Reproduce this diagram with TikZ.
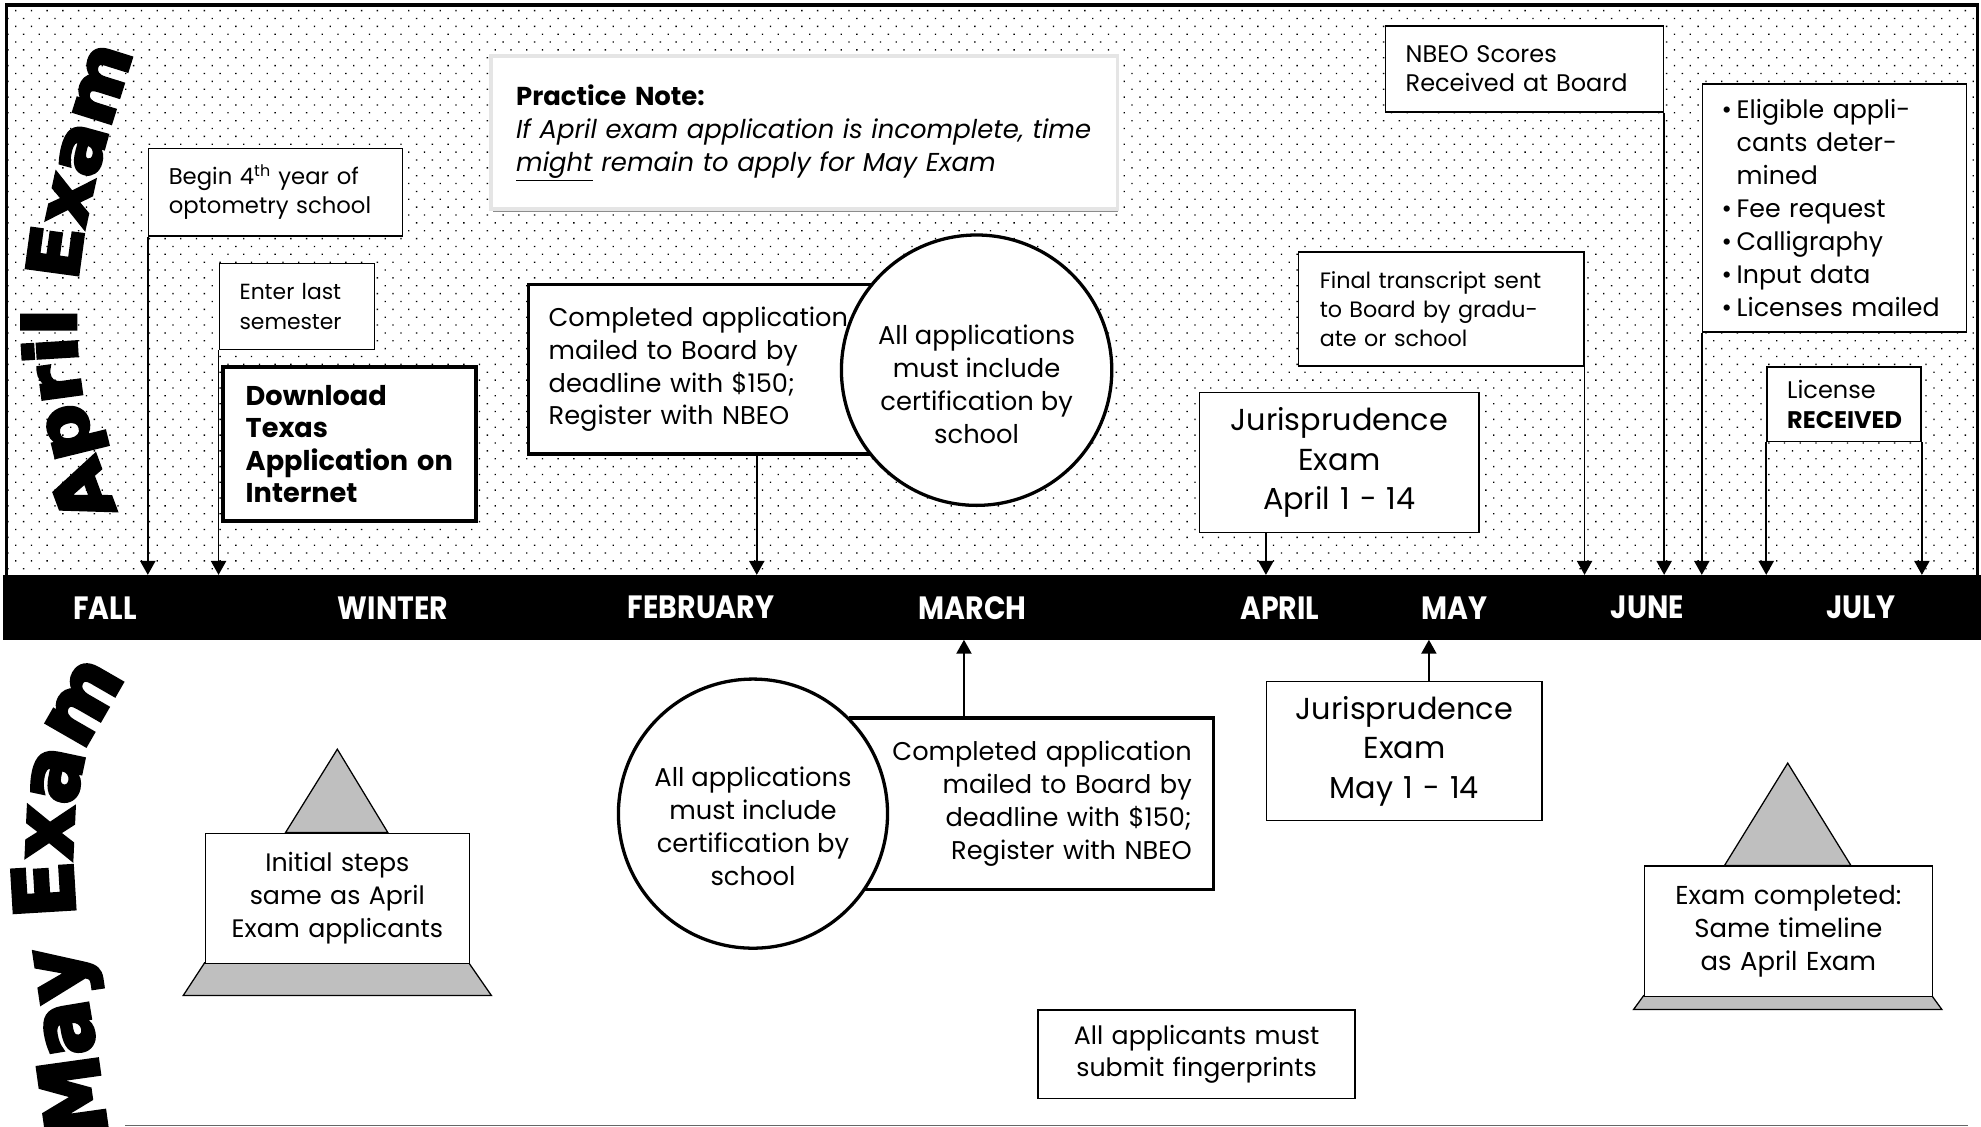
\documentclass[tikz,border=0pt]{standalone}
\usepackage{fontspec}
\setmainfont{Poppins}
\newfontfamily\heavy[FakeBold=5]{DejaVu Sans}
\newfontfamily\heavywide[FakeBold=5,FakeStretch=1.1]{DejaVu Sans}
\newfontfamily\monthfont[FakeStretch=0.88]{Poppins}
\usetikzlibrary{arrows.meta,patterns.meta,decorations.text,calc}
\newcommand\fs[2]{\fontsize{#1}{#2}\selectfont}
\begin{document}
\begin{tikzpicture}[x=1pt,y=-1pt,
  bx/.style={draw, fill=white, line width=1.2pt, rectangle, inner ysep=0pt, anchor=north west},
  tbx/.style={bx, line width=2.6pt},
  circ/.style={draw, fill=white, circle, line width=2.6pt, inner sep=0pt},
  ctext/.style={align=center, font=\fs{20.4}{26}},
  arr/.style={line width=1.2pt, -{Triangle[width=12pt,length=11pt]}},
  month/.style={text=white, font=\monthfont\bfseries\fs{25.5}{28}, anchor=center},
  ped/.style={draw, fill=black!25, line width=1pt, line join=miter},
]
\useasboundingbox (0,0) rectangle (1568,892);
\fill[white] (0,0) rectangle (1568,892);
% dotted background and frame
\path[pattern={Dots[distance=8.8pt,angle=45,radius=0.75pt]}, pattern color=black] (5,5) rectangle (1565,455);
\draw[line width=2.6pt] (5,455) |- (1565,4) -- (1565,455);
% timeline bar
\node[fill=black, inner sep=0pt, minimum width=1566pt, minimum height=51pt, anchor=north west] (bar) at (2,455) {};
\node[month] (mfall) at (83,481) {FALL};
\node[month] (mwinter) at (311,481) {WINTER};
\node[month] (mfeb) at (555,481) {FEBRUARY};
\node[month] (mmar) at (770,481) {MARCH};
\node[month] (mapr) at (1013,481) {APRIL};
\node[month] (mmay) at (1151,481) {MAY};
\node[month] (mjun) at (1304,481) {JUNE};
\node[month] (mjul) at (1473,481) {JULY};
% headings
\path[decorate, decoration={text along path, text align=center,
  text={|\heavywide\bfseries\fs{56}{56}|April Exam}}] (96,412) .. controls (30,267) and (67,162) .. (108,33);
\path[decorate, decoration={text along path, text align=center,
  text={|\heavy\bfseries\fs{65}{65}|May Exam}}] (85,908) .. controls (79,796) and (12,621) .. (110,530);
% upper boxes
\node[bx, minimum width=201pt, minimum height=69pt, inner xsep=16pt, text width=169pt, align=left, font=\fs{18}{23}] (begin) at (117,117)
  {Begin 4\textsuperscript{th} year of\\optometry school};
\node[bx, minimum width=123pt, minimum height=68pt, inner xsep=16pt, text width=91pt, align=left, font=\fs{17.3}{23}] (enter) at (173,208)
  {Enter last\\semester};
\node[tbx, line width=3pt, minimum width=200pt, minimum height=122pt, inner xsep=18pt, text width=164pt, align=left, font=\bfseries\fs{21.5}{25.5}] (download) at (175,289)
  {Download\\Texas\\Application on\\Internet};
\fill[black!45] (390,48) rectangle (885,168);
\node[bx, draw=black!10, line width=3pt, minimum width=496pt, minimum height=121pt, inner xsep=20pt, text width=456pt, align=left, font=\fs{20.5}{26}] (note) at (387,43)
  {\textbf{Practice Note:}\\\textit{If April exam application is incomplete, time}\\\textit{\underline{might} remain to apply for May Exam}};
\node[tbx, minimum width=283pt, minimum height=134pt, inner xsep=16pt, text width=251pt, align=left, font=\fs{20.3}{26}] (appA) at (417,224)
  {Completed application\\mailed to Board by\\deadline with \$150;\\Register with NBEO};
\node[circ, minimum size=214pt] (circA) at (773,293) {};
\node[ctext] (circAtxt) at ([yshift=-11pt]circA.center)
  {All applications\\must include\\certification by\\school};
\node[bx, minimum width=221pt, minimum height=111pt, inner xsep=6pt, text width=209pt, align=center, font=\fs{24}{31}] (jurA) at (949,310)
  {Jurisprudence\\Exam\\April 1 - 14};
\node[bx, minimum width=226pt, minimum height=90pt, inner xsep=17pt, text width=192pt, align=left, font=\fs{17.6}{23}] (transcript) at (1027,199)
  {Final transcript sent\\to Board by gradu-\\ate or school};
\node[bx, minimum width=220pt, minimum height=68pt, inner xsep=16pt, text width=188pt, align=left, font=\fs{19}{23}] (nbeo) at (1096,20)
  {NBEO Scores\\Received at Board};
\node[bx, minimum width=209pt, minimum height=196pt, inner xsep=15pt, text width=179pt, align=left, font=\fs{20}{26}] (bullets) at (1347,66)
  {\makebox[12pt][l]{\textbullet}Eligible appli-\\\hspace*{12pt}cants deter-\\\hspace*{12pt}mined\\
   \makebox[12pt][l]{\textbullet}Fee request\\\makebox[12pt][l]{\textbullet}Calligraphy\\
   \makebox[12pt][l]{\textbullet}Input data\\\makebox[12pt][l]{\textbullet}Licenses mailed};
\node[bx, minimum width=122pt, minimum height=59pt, inner xsep=16pt, text width=90pt, align=left, font=\fs{19}{24}] (license) at (1398,290)
  {License\\\textbf{RECEIVED}};
% lower boxes
\node[tbx, minimum width=287pt, minimum height=136pt, inner xsep=17pt, text width=253pt, align=right, font=\fs{20.3}{26}] (appM) at (672,567)
  {Completed application\\mailed to Board by\\deadline with \$150;\\Register with NBEO};
\node[circ, minimum size=213pt] (circM) at (596,644) {};
\node[ctext] (circMtxt) at ([yshift=-10pt]circM.center)
  {All applications\\must include\\certification by\\school};
\node[bx, minimum width=218pt, minimum height=110pt, inner xsep=6pt, text width=206pt, align=center, font=\fs{24}{31}] (jurM) at (1002,539)
  {Jurisprudence\\Exam\\May 1 - 14};
\node[bx, minimum width=251pt, minimum height=70pt, inner xsep=6pt, text width=239pt, align=center, font=\fs{20}{25}] (finger) at (821,799)
  {All applicants must\\submit fingerprints};
% pedestals
\draw[ped] (226,659) -- (267,593) -- (307,659) -- cycle;
\draw[ped] (162,762) -- (371,762) -- (389,788) -- (145,788) -- cycle;
\node[bx, line width=1pt, minimum width=209pt, minimum height=103pt, inner xsep=6pt, text width=197pt, align=center, font=\fs{20}{26}] (pedL) at (162,659)
  {Initial steps\\same as April\\Exam applicants};
\draw[ped] (1365,685) -- (1415,604) -- (1465,685) -- cycle;
\draw[ped] (1301,788) -- (1529,788) -- (1537,799) -- (1293,799) -- cycle;
\node[bx, line width=1pt, minimum width=228pt, minimum height=103pt, inner xsep=6pt, text width=216pt, align=center, font=\fs{20.5}{26}] (pedR) at (1301,685)
  {Exam completed:\\Same timeline\\as April Exam};
% connectors
\coordinate (pA) at ([xshift=182pt]appA.south west);
\coordinate (pJ) at ([xshift=53pt]jurA.south west);
\coordinate (pM) at ([xshift=91pt]appM.north west);
\coordinate (pJM) at ([xshift=129pt]jurM.north west);
\draw[arr] (begin.south west) -- (begin.south west |- bar.north);
\draw[arr] (enter.south west) -- (enter.south west |- bar.north);
\draw[arr] (pA) -- (pA |- bar.north);
\draw[arr] (pJ) -- (pJ |- bar.north);
\draw[arr] (transcript.south east) -- (transcript.south east |- bar.north);
\draw[arr] (nbeo.south east) -- (nbeo.south east |- bar.north);
\draw[arr] (bullets.south west) -- (bullets.south west |- bar.north);
\draw[arr] (license.south west) -- (license.south west |- bar.north);
\draw[arr] (license.south east) -- (license.south east |- bar.north);
\draw[arr] (pM) -- (pM |- bar.south);
\draw[arr] (pJM) -- (pJM |- bar.south);
% bottom rule
\draw[black!60, line width=1.2pt] (99,891) -- (1558,891);
\end{tikzpicture}
\end{document}
